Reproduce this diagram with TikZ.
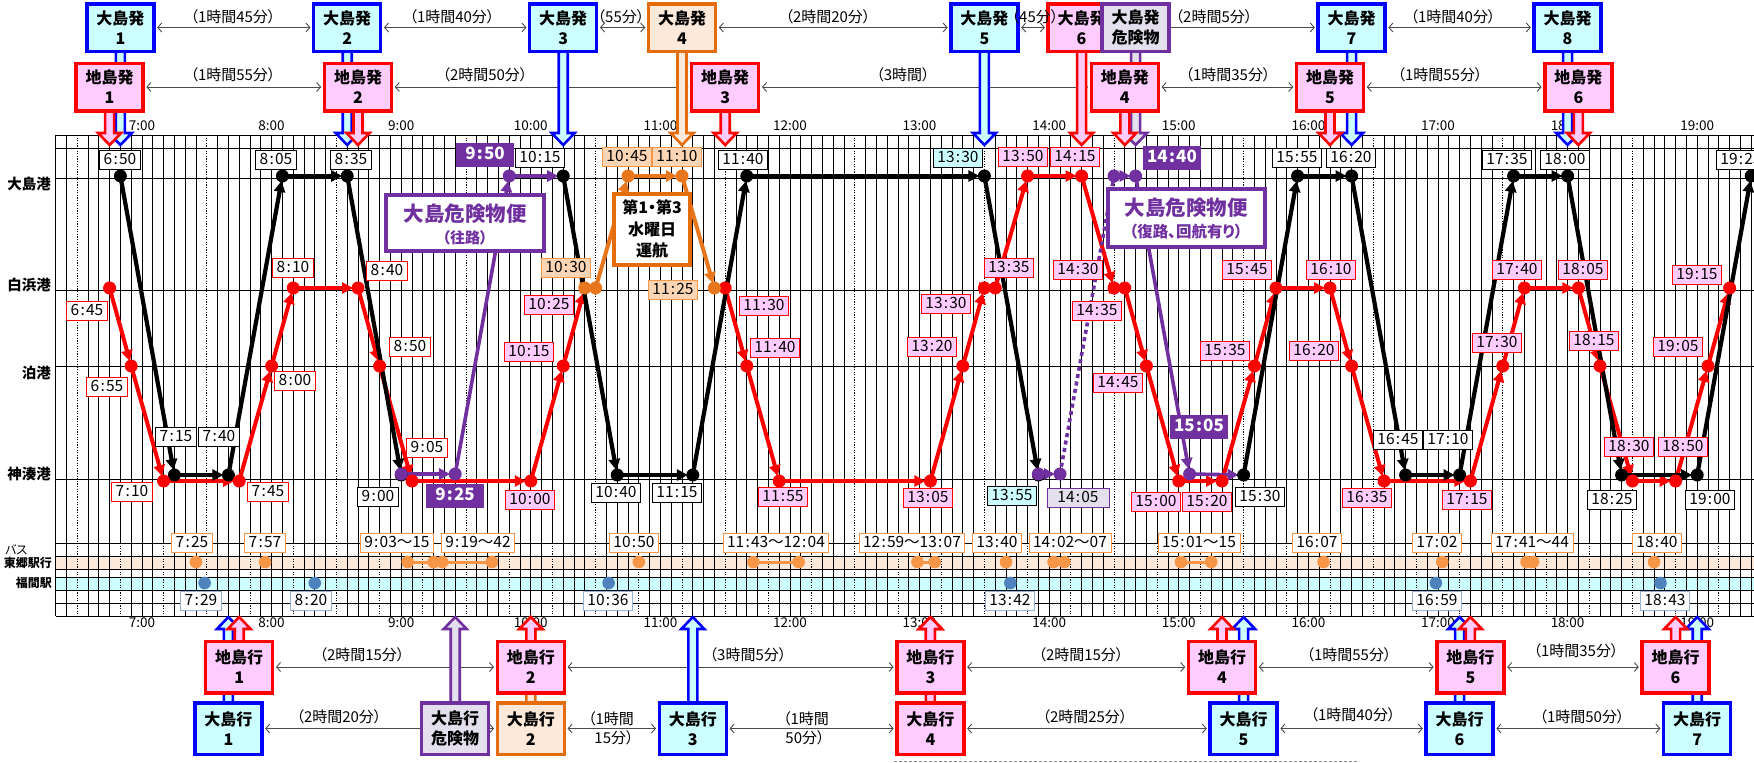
\documentclass[tikz,border=0pt]{standalone}
\usepackage{fontspec}
\setmainfont{Noto Sans CJK JP}[RawFeature=+palt]
\usetikzlibrary{arrows.meta}
\pgfdeclarelayer{front}
\pgfdeclarelayer{top}
\pgfsetlayers{main,front,top}
\definecolor{cyanf}{HTML}{CCFFFF}
\definecolor{pinkf}{HTML}{FFCCFF}
\definecolor{blueb}{HTML}{0000FF}
\definecolor{redb}{HTML}{FF0000}
\definecolor{orgb}{HTML}{E46C0A}
\definecolor{orgr}{HTML}{E8761C}
\definecolor{orgf}{HTML}{FDE9D9}
\definecolor{orgl}{HTML}{FCD5B4}
\definecolor{orglb}{HTML}{F79646}
\definecolor{purb}{HTML}{7030A0}
\definecolor{lavf}{HTML}{E4DFEC}
\definecolor{busor}{HTML}{F79646}
\definecolor{busbl}{HTML}{4F81BD}
\definecolor{busblb}{HTML}{95B3D7}
\pgfmathdeclarefunction{tx}{2}{\pgfmathparse{142+129.6*(#1-7)+2.16*(#2)}}
\def\cc{\kern1.2pt:\kern1.2pt}
\def\yO{176}\def\yS{288}\def\yT{366}\def\yKb{475}\def\yKr{481}\def\yKp{474}
\newcommand\darr[4]{\pgfmathsetmacro\ax{#2}\draw[#1] (\ax-4.5,#3) -- (\ax-4.5,#4-12) -- (\ax-11.5,#4-12) -- (\ax,#4) -- (\ax+11.5,#4-12) -- (\ax+4.5,#4-12) -- (\ax+4.5,#3);}
\newcommand\uarr[4]{\pgfmathsetmacro\ax{#2}\draw[#1] (\ax-4.5,#3) -- (\ax-4.5,#4+12) -- (\ax-11.5,#4+12) -- (\ax,#4) -- (\ax+11.5,#4+12) -- (\ax+4.5,#4+12) -- (\ax+4.5,#3);}
\tikzset{
 gl/.style={line width=0.85pt, black},
 gd/.style={line width=0.85pt, black, dash pattern=on 1.2pt off 1.4pt},
 hl/.style={font=\fontsize{13.5pt}{14pt}\selectfont, inner sep=0pt},
 portl/.style={font=\bfseries\fontsize{14.5pt}{15pt}\selectfont, anchor=east, inner sep=0pt},
 rtk/.style={line width=4.2pt, draw=black, -{Triangle[length=11pt,width=11pt]}, shorten >=5pt},
 rtr/.style={line width=4pt, draw=redb, -{Triangle[length=11pt,width=11pt]}, shorten >=5pt},
 rto/.style={line width=4pt, draw=orgr, -{Triangle[length=11pt,width=11pt]}, shorten >=5pt},
 rtp/.style={line width=3.6pt, draw=purb, -{Triangle[length=11pt,width=11pt]}, shorten >=5pt},
 rtpd/.style={line width=3.6pt, draw=purb, dash pattern=on 4pt off 3.5pt},
 tl/.style={font=\fontsize{15.5pt}{16pt}\selectfont, inner xsep=4pt, inner ysep=2pt, text height=12pt, text depth=3.5pt, line width=0.8pt},
 lbWK/.style={tl, draw=black, fill=white},
 lbCK/.style={tl, draw=black, fill=cyanf},
 lbRW/.style={tl, draw=redb, fill=white},
 lbRP/.style={tl, draw=redb, fill=pinkf},
 lbOR/.style={tl, draw=orglb, fill=orgl},
 lbPF/.style={tl, fill=purb, text=white, font=\bfseries\fontsize{17pt}{18pt}\selectfont, minimum width=58pt, minimum height=24pt},
 lbPL/.style={tl, draw=purb, fill=lavf, minimum width=62pt},
 lbBO/.style={tl, draw=orglb, fill=white},
 lbBB/.style={tl, draw=busblb, fill=white},
 tbx/.style={line width=3.5pt, minimum width=67pt, minimum height=47.5pt, inner sep=0pt, align=center, font=\bfseries\fontsize{16pt}{20pt}\selectfont},
 bbx/.style={tbx, draw=blueb, fill=cyanf},
 rbx/.style={tbx, draw=redb, fill=pinkf},
 obx/.style={tbx, draw=orgb, fill=orgf},
 pbx/.style={tbx, draw=purb, fill=lavf},
 lowbox/.style={minimum height=51.5pt},
 baB/.style={draw=blueb, fill=cyanf, line width=2.6pt},
 baR/.style={draw=redb, fill=pinkf, line width=2.6pt},
 baO/.style={draw=orgb, fill=orgf, line width=2.6pt},
 baP/.style={draw=purb, fill=lavf, line width=2.6pt},
 conn/.style={draw=black!70, line width=0.9pt, >={Straight Barb[length=4pt,width=9pt]}, <->, shorten <=1.5pt, shorten >=1.5pt},
 cl/.style={font=\fontsize{15pt}{16pt}\selectfont, inner sep=0pt},
}
\begin{document}
\begin{tikzpicture}[x=1pt,y=-1pt]
\useasboundingbox (0,0) rectangle (1754,763);
\fill[white] (0,0) rectangle (1754,763);
% bands
\fill[orgf] (55.6,556) rectangle (1754,569);
\fill[cyanf] (55.6,577) rectangle (1754,590);
% grid
\foreach \i in {0,...,157}{
  \pgfmathsetmacro\xx{55.6+10.8*\i}
  \pgfmathtruncatemacro\ma{mod(\i,12)}
  \pgfmathtruncatemacro\mb{mod(\i,4)}
  \ifnum\ma=2 \draw[gd] (\xx,135) -- (\xx,543); \else \draw[gl] (\xx,135) -- (\xx,543); \fi
  \ifnum\mb=2 \draw[gd] (\xx,543) -- (\xx,616); \else \draw[gl] (\xx,543) -- (\xx,616); \fi
}
\foreach \vy in {135,148,178,290,366,479,543,556,569,577,590,603,616}
  \draw[gl] (55.6,\vy) -- (1754,\vy);
% hour labels
\foreach \h in {7,...,19}{
  \node[hl] (ht\h) at ({tx(\h,0)},126) {\h:00};
  \node[hl] (hb\h) at ({tx(\h,0)},623) {\h:00};
}
% row labels
\node[portl] (lo) at (51,184) {大島港};
\node[portl] (ls) at (51,285) {白浜港};
\node[portl] (lt) at (51,373) {泊港};
\node[portl] (lk) at (51,474) {神湊港};
\node[anchor=west, inner sep=0pt, font=\fontsize{12pt}{12pt}\selectfont] (lbus) at (5,550) {バス};
\node[anchor=east, inner sep=0pt, font=\bfseries\fontsize{12pt}{12pt}\selectfont] (ltg) at (52,563) {東郷駅行};
\node[anchor=east, inner sep=0pt, font=\bfseries\fontsize{12pt}{12pt}\selectfont] (lfm) at (52,583) {福間駅};
% route stops
\foreach \n/\h/\m/\vy in {k1/6/50/\yO,k2/7/15/\yKb,k3/7/40/\yKb,k4/8/5/\yO,k5/8/35/\yO,k6/9/0/\yKb,k7/10/15/\yO,k8/10/40/\yKb,k9/11/15/\yKb,k10/11/40/\yO,k11/13/30/\yO,k12/13/55/\yKb,k13/15/30/\yKb,k14/15/55/\yO,k15/16/20/\yO,k16/16/45/\yKb,k17/17/10/\yKb,k18/17/35/\yO,k19/18/0/\yO,k20/18/25/\yKb,k21/19/0/\yKb,k22/19/25/\yO,
 p1/9/0/\yKp,p2/9/25/\yKp,p3/9/50/\yO,p5/13/55/\yKp,p6/14/5/\yKp,p7/14/30/\yO,p8/14/40/\yO,p9/15/5/\yKp,
 o1/10/25/\yS,o2/10/30/\yS,o3/10/45/\yO,o4/11/10/\yO,o5/11/25/\yS,
 r1/6/45/\yS,r2/6/55/\yT,r3/7/10/\yKr,r4/7/45/\yKr,r5/8/0/\yT,r6/8/10/\yS,r7/8/40/\yS,r8/8/50/\yT,r9/9/5/\yKr,r10/10/0/\yKr,r11/10/15/\yT,r12/10/25/\yS,
 r13/11/30/\yS,r14/11/40/\yT,r15/11/55/\yKr,r16/13/5/\yKr,r17/13/20/\yT,r18/13/30/\yS,r19/13/35/\yS,r20/13/50/\yO,r21/14/15/\yO,r22/14/30/\yS,r23/14/35/\yS,r24/14/45/\yT,r25/15/0/\yKr,r26/15/20/\yKr,r27/15/35/\yT,r28/15/45/\yS,r29/16/10/\yS,r30/16/20/\yT,r31/16/35/\yKr,r32/17/15/\yKr,r33/17/30/\yT,r34/17/40/\yS,r35/18/5/\yS,r36/18/15/\yT,r37/18/30/\yKr,r38/18/50/\yKr,r39/19/5/\yT,r40/19/15/\yS}
  \coordinate (\n) at ({tx(\h,\m)},\vy);
% red route
\foreach \a/\b in {r1/r2,r2/r3,r3/r4,r4/r5,r5/r6,r6/r7,r7/r8,r8/r9,r9/r10,r10/r11,r11/r12,r13/r14,r14/r15,r15/r16,r16/r17,r17/r18,r18/r19,r19/r20,r20/r21,r21/r22,r22/r23,r23/r24,r24/r25,r25/r26,r26/r27,r27/r28,r28/r29,r29/r30,r30/r31,r31/r32,r32/r33,r33/r34,r34/r35,r35/r36,r36/r37,r37/r38,r38/r39,r39/r40}
  \draw[rtr] (\a) -- (\b);
% black route
\foreach \a/\b in {k1/k2,k2/k3,k3/k4,k4/k5,k5/k6,k7/k8,k8/k9,k9/k10,k10/k11,k11/k12,k13/k14,k14/k15,k15/k16,k16/k17,k17/k18,k18/k19,k19/k20,k20/k21,k21/k22}
  \draw[rtk] (\a) -- (\b);
% orange route
\foreach \a/\b in {o1/o2,o2/o3,o3/o4,o4/o5}
  \draw[rto] (\a) -- (\b);
% purple route
\foreach \a/\b in {p1/p2,p2/p3,p3/k7,p5/p6,p7/p8,p8/p9,p9/k13}
  \draw[rtp] (\a) -- (\b);
\draw[rtpd] (p6) -- (p7);
% dots
\foreach \n in {k1,k2,k3,k4,k5,k6,k7,k8,k9,k10,k11,k12,k13,k14,k15,k16,k17,k18,k19,k20,k21,k22}
  \fill[black] (\n) circle (6.5pt);
\foreach \n in {r1,r2,r3,r4,r5,r6,r7,r8,r9,r10,r11,r13,r14,r15,r16,r17,r18,r19,r20,r21,r22,r23,r24,r25,r26,r27,r28,r29,r30,r31,r32,r33,r34,r35,r36,r37,r38,r39,r40}
  \fill[redb] (\n) circle (6.5pt);
\foreach \n in {o1,o2,o3,o4,o5}
  \fill[orgr] (\n) circle (6.5pt);
\foreach \n in {p1,p2,p3,p5,p6,p7,p8,p9}
  \fill[purb] (\n) circle (6.5pt);
% bus
\foreach \h/\m [count=\i] in {7/25,7/57,9/3,9/15,9/19,9/42,10/50,11/43,12/4,12/59,13/7,13/40,14/2,14/7,15/1,15/15,16/7,17/2,17/41,17/44,18/40}
  \coordinate (bo\i) at ({tx(\h,\m)},562);
\foreach \h/\m [count=\i] in {7/29,8/20,10/36,13/42,16/59,18/43}
  \coordinate (bb\i) at ({tx(\h,\m)},583);
\foreach \a/\b in {bo3/bo4,bo5/bo6,bo8/bo9,bo10/bo11,bo13/bo14,bo15/bo16,bo19/bo20}
  \draw[busor, line width=3pt] (\a) -- (\b);
\foreach \i in {1,...,21} \fill[busor] (bo\i) circle (6.3pt);
\foreach \i in {1,...,6} \fill[busbl] (bb\i) circle (6.3pt);
% time labels
\foreach \x/\vy/\t [count=\i] in {120/160/6\cc50, 276/160/8\cc05, 351/160/8\cc35, 540/158/10\cc15, 743/160/11\cc40, 1297/158/15\cc55, 1351/158/16\cc20, 1507/160/17\cc35, 1565/160/18\cc00, 1741/160/19\cc25, 176/437/7\cc15, 219/437/7\cc40, 378/497/9\cc00, 616/493/10\cc40, 677/493/11\cc15, 1260/497/15\cc30, 1398/440/16\cc45, 1448/440/17\cc10, 1612/500/18\cc25, 1710/500/19\cc00}
  \node[lbWK] (w\i) at (\x,\vy) {\t};
\foreach \x/\vy/\t [count=\i] in {958/158/13\cc30, 1012/496/13\cc55}
  \node[lbCK] (c\i) at (\x,\vy) {\t};
\foreach \x/\vy/\t [count=\i] in {87/311/6\cc45, 107/387/6\cc55, 132/492/7\cc10, 268/492/7\cc45, 295/381/8\cc00, 293/268/8\cc10, 387/271/8\cc40, 410/347/8\cc50, 427/448/9\cc05}
  \node[lbRW] (rw\i) at (\x,\vy) {\t};
\foreach \x/\vy/\t [count=\i] in {530/500/10\cc00, 529/352/10\cc15, 549/305/10\cc25, 764/306/11\cc30, 775/348/11\cc40, 783/497/11\cc55, 928/498/13\cc05, 932/347/13\cc20, 946/304/13\cc30, 1009/268/13\cc35, 1023/157/13\cc50, 1075/157/14\cc15, 1078/270/14\cc30, 1097/311/14\cc35, 1118/383/14\cc45, 1156/502/15\cc00, 1207/502/15\cc20, 1225/351/15\cc35, 1247/270/15\cc45, 1331/270/16\cc10, 1314/351/16\cc20, 1367/498/16\cc35, 1467/500/17\cc15, 1497/343/17\cc30, 1517/270/17\cc40, 1583/270/18\cc05, 1594/341/18\cc15, 1629/447/18\cc30, 1683/447/18\cc50, 1678/347/19\cc05, 1697/275/19\cc15}
  \node[lbRP] (rp\i) at (\x,\vy) {\t};
\foreach \x/\vy/\t [count=\i] in {566/268/10\cc30, 627/157/10\cc45, 677/157/11\cc10, 673/290/11\cc25}
  \node[lbOR] (ol\i) at (\x,\vy) {\t};
\foreach \x/\vy/\t [count=\i] in {485/155/9\cc50, 455/496/9\cc25, 1172/158/14\cc40, 1199/427/15\cc05}
  \node[lbPF] (pf\i) at (\x,\vy) {\t};
\node[lbPL] (pl1) at (1078,498) {14\cc05};
\foreach \x/\t [count=\i] in {192/7\cc25, 265/7\cc57, 397/9\cc03〜15, 478/9\cc19〜42, 634/10\cc50, 776/11\cc43〜12\cc04, 912/12\cc59〜13\cc07, 997/13\cc40, 1070/14\cc02〜07, 1199/15\cc01〜15, 1317/16\cc07, 1437/17\cc02, 1532/17\cc41〜44, 1657/18\cc40}
  \node[lbBO] (bl\i) at (\x,543) {\t};
\foreach \x/\t [count=\i] in {201/7\cc29, 311/8\cc20, 608/10\cc36, 1010/13\cc42, 1437/16\cc59, 1665/18\cc43}
  \node[lbBB] (bq\i) at (\x,601) {\t};
% info boxes
\node[draw=purb, line width=4pt, fill=white, minimum width=158pt, minimum height=56pt, inner sep=0pt] (ib1) at (465,223) {};
\node[font=\bfseries\fontsize{20.5pt}{22pt}\selectfont, text=purb, inner sep=0pt] (ib1a) at (465,214) {大島危険物便};
\node[font=\bfseries\fontsize{15pt}{16pt}\selectfont, text=purb, inner sep=0pt] (ib1b) at (465,238) {（往路）};
\node[draw=purb, line width=4pt, fill=white, minimum width=157pt, minimum height=58pt, inner sep=0pt] (ib2) at (1186.5,218) {};
\node[font=\bfseries\fontsize{20.5pt}{22pt}\selectfont, text=purb, inner sep=0pt] (ib2a) at (1186,208) {大島危険物便};
\node[font=\bfseries\fontsize{15.5pt}{16pt}\selectfont, text=purb, inner sep=0pt] (ib2b) at (1186,232) {（復路、回航有り）};
\node[draw=orgb, line width=4pt, fill=white, minimum width=76pt, minimum height=71pt, inner sep=0pt] (ib3) at (652,229.5) {};
\node[font=\bfseries\fontsize{16pt}{17pt}\selectfont, inner sep=0pt] (ib3a) at (652,207) {第1・第3};
\node[font=\bfseries\fontsize{16pt}{17pt}\selectfont, inner sep=0pt] (ib3b) at (652,229) {水曜日};
\node[font=\bfseries\fontsize{16pt}{17pt}\selectfont, inner sep=0pt] (ib3c) at (652,250) {運航};
% boxes (front layer)
\begin{pgfonlayer}{front}
\node[bbx] (od1) at ({tx(6,50)},27.5) {大島発\\1};
\node[bbx] (od2) at ({tx(8,35)},27.5) {大島発\\2};
\node[bbx] (od3) at ({tx(10,15)},27.5) {大島発\\3};
\node[obx] (od4) at ({tx(11,10)},27.5) {大島発\\4};
\node[bbx] (od5) at ({tx(13,30)},27.5) {大島発\\5};
\node[rbx] (od6) at ({tx(14,15)},27.5) {大島発\\6};
\node[pbx] (odk) at ({tx(14,40)},27.5) {大島発\\危険物};
\node[bbx] (od7) at ({tx(16,20)},27.5) {大島発\\7};
\node[bbx] (od8) at ({tx(18,0)},27.5) {大島発\\8};
\node[rbx] (jd1) at ({tx(6,45)},87) {地島発\\1};
\node[rbx] (jd2) at ({tx(8,40)},87) {地島発\\2};
\node[rbx] (jd3) at ({tx(11,30)},87) {地島発\\3};
\node[rbx] (jd4) at ({tx(14,35)},87) {地島発\\4};
\node[rbx] (jd5) at ({tx(16,10)},87) {地島発\\5};
\node[rbx] (jd6) at ({tx(18,5)},87) {地島発\\6};
\node[rbx,lowbox] (ja1) at ({tx(7,45)},667) {地島行\\1};
\node[rbx,lowbox] (ja2) at ({tx(10,0)},667) {地島行\\2};
\node[rbx,lowbox] (ja3) at ({tx(13,5)},667) {地島行\\3};
\node[rbx,lowbox] (ja4) at ({tx(15,20)},667) {地島行\\4};
\node[rbx,lowbox] (ja5) at ({tx(17,15)},667) {地島行\\5};
\node[rbx,lowbox] (ja6) at ({tx(18,50)},667) {地島行\\6};
\node[bbx,lowbox] (oa1) at ({tx(7,40)},728.5) {大島行\\1};
\node[pbx,lowbox] (oak) at ({tx(9,25)},728.5) {大島行\\危険物};
\node[obx,lowbox] (oa2) at ({tx(10,0)},728.5) {大島行\\2};
\node[bbx,lowbox] (oa3) at ({tx(11,15)},728.5) {大島行\\3};
\node[rbx,lowbox] (oa4) at ({tx(13,5)},728.5) {大島行\\4};
\node[bbx,lowbox] (oa5) at ({tx(15,30)},728.5) {大島行\\5};
\node[bbx,lowbox] (oa6) at ({tx(17,10)},728.5) {大島行\\6};
\node[bbx,lowbox] (oa7) at ({tx(19,0)},728.5) {大島行\\7};
\end{pgfonlayer}
% connectors
\foreach \a/\b in {od1/od2,od2/od3,od3/od4,od4/od5,od5/od6,od6/od7,od7/od8,jd1/jd2,jd2/jd3,jd3/jd4,jd4/jd5,jd5/jd6,ja1/ja2,ja2/ja3,ja3/ja4,ja4/ja5,ja5/ja6,oa1/oa2,oa2/oa3,oa3/oa4,oa4/oa5,oa5/oa6,oa6/oa7}
  \draw[conn] (\a.east) -- (\b.west);
% block arrows
\darr{baB}{tx(6,50)}{45}{145}
\darr{baB}{tx(8,35)}{45}{145}
\darr{baB}{tx(10,15)}{45}{145}
\darr{baO}{tx(11,10)}{45}{145}
\darr{baB}{tx(13,30)}{45}{145}
\darr{baR}{tx(14,15)}{45}{145}
\darr{baP}{tx(14,40)}{45}{145}
\darr{baB}{tx(16,20)}{45}{145}
\darr{baB}{tx(18,0)}{45}{145}
\darr{baR}{tx(6,45)}{105}{145}
\darr{baR}{tx(8,40)}{105}{145}
\darr{baR}{tx(11,30)}{105}{145}
\darr{baR}{tx(14,35)}{105}{145}
\darr{baR}{tx(16,10)}{105}{145}
\darr{baR}{tx(18,5)}{105}{145}
\uarr{baB}{tx(7,40)}{707}{617}
\uarr{baP}{tx(9,25)}{707}{617}
\uarr{baO}{tx(10,0)}{707}{617}
\uarr{baB}{tx(11,15)}{707}{617}
\uarr{baR}{tx(13,5)}{707}{617}
\uarr{baB}{tx(15,30)}{707}{617}
\uarr{baB}{tx(17,10)}{707}{617}
\uarr{baB}{tx(19,0)}{707}{617}
\uarr{baR}{tx(7,45)}{645}{617}
\uarr{baR}{tx(10,0)}{645}{617}
\uarr{baR}{tx(13,5)}{645}{617}
\uarr{baR}{tx(15,20)}{645}{617}
\uarr{baR}{tx(17,15)}{645}{617}
\uarr{baR}{tx(18,50)}{645}{617}
% connector labels
\begin{pgfonlayer}{top}
\node[cl] (t1) at (233,17) {（1時間45分）};
\node[cl] (t2) at (452,17) {（1時間40分）};
\node[cl] (t3) at (621,17) {（55分）};
\node[cl] (t4) at (828,17) {（2時間20分）};
\node[cl] (t5) at (1035,17) {（45分）};
\node[cl] (t6) at (1214,17) {（2時間5分）};
\node[cl] (t7) at (1453,17) {（1時間40分）};
\node[cl] (u1) at (233,75) {（1時間55分）};
\node[cl] (u2) at (485,75) {（2時間50分）};
\node[cl] (u3) at (903,75) {（3時間）};
\node[cl] (u4) at (1228,75) {（1時間35分）};
\node[cl] (u5) at (1440,75) {（1時間55分）};
\node[cl] (v1) at (362,655) {（2時間15分）};
\node[cl] (v2) at (748,655) {（3時間5分）};
\node[cl] (v3) at (1081,655) {（2時間15分）};
\node[cl] (v4) at (1349,655) {（1時間55分）};
\node[cl] (v5) at (1576,651) {（1時間35分）};
\node[cl] (z1) at (339,717) {（2時間20分）};
\node[cl] (z2a) at (611,719) {（1時間};
\node[cl] (z2b) at (614,738) {15分）};
\node[cl] (z3a) at (806,719) {（1時間};
\node[cl] (z3b) at (805,738) {50分）};
\node[cl] (z4) at (1085,717) {（2時間25分）};
\node[cl] (z5) at (1353,715) {（1時間40分）};
\node[cl] (z6) at (1582,717) {（1時間50分）};
\end{pgfonlayer}
\draw[black!45, dash pattern=on 3pt off 2pt, line width=0.8pt] (894,761.5) -- (1359,761.5);
\end{tikzpicture}
\end{document}
